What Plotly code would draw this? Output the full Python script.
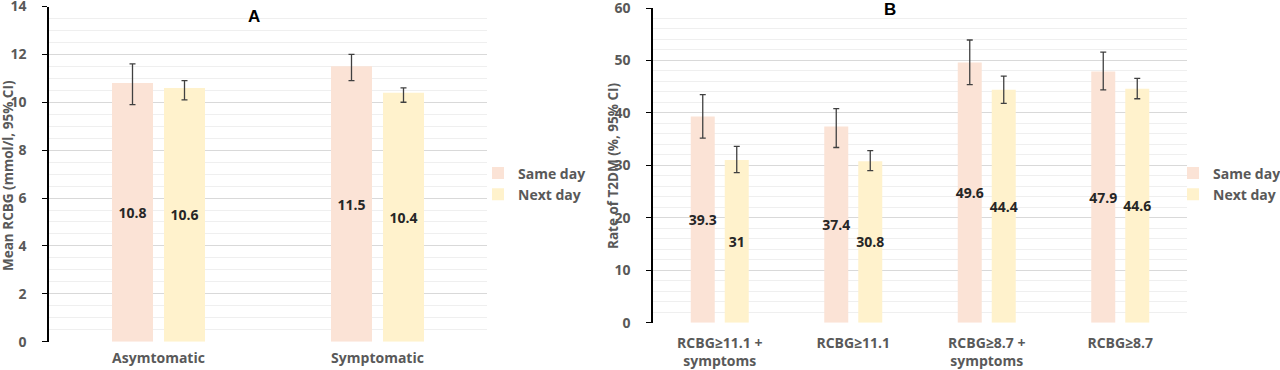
import plotly.graph_objects as go

# ---- Data ----
cats_a = ["Asymtomatic", "Symptomatic"]
same_a = [10.8, 11.5]
same_a_lo = [9.9, 10.9]
same_a_hi = [11.6, 12.0]
next_a = [10.6, 10.4]
next_a_lo = [10.1, 10.0]
next_a_hi = [10.9, 10.6]

cats_b = ["RCBG≥11.1 + symptoms", "RCBG≥11.1", "RCBG≥8.7 + symptoms", "RCBG≥8.7"]
ticks_b = ["RCBG≥11.1 +<br>symptoms", "RCBG≥11.1", "RCBG≥8.7 +<br>symptoms", "RCBG≥8.7"]
same_b = [39.3, 37.4, 49.6, 47.9]
same_b_lo = [35.2, 33.4, 45.4, 44.4]
same_b_hi = [43.5, 40.8, 53.9, 51.6]
next_b = [31, 30.8, 44.4, 44.6]
next_b_lo = [28.6, 29.0, 41.8, 42.7]
next_b_hi = [33.6, 32.8, 47.0, 46.6]

series_names = ["Same day", "Next day"]
colors = ["#FBE3D6", "#FFF2CC"]

FONT = "Open Sans"
GRAY = "#595959"
W, H = 1280, 370


def px_x(p):
    return p / W


def px_y(p):
    return 1 - p / H


fig = go.Figure()


def add_bars(x, vals, lo, hi, name, color, xa, ya, legend, width, offset):
    fig.add_trace(go.Bar(
        x=x, y=vals, name=name, marker=dict(color=color, line=dict(width=0)),
        xaxis=xa, yaxis=ya, legend=legend, width=width, offset=offset,
        text=[f"{v:g}" for v in vals], textposition="inside",
        insidetextanchor="middle", textangle=0, constraintext="none",
        textfont=dict(family=FONT, size=14, color="#262626", weight="bold"),
        error_y=dict(type="data", symmetric=False,
                     array=[h - v for h, v in zip(hi, vals)],
                     arrayminus=[v - l for l, v in zip(lo, vals)],
                     color="#404040", thickness=1.3, width=3),
        hoverinfo="x+y",
    ))


# bar width / offset in category units (panel A: 41px bars, 11px gap in 219px slots;
# panel B: 24px bars, 10px gap in 133.5px slots)
wa, ga = 41 / 219, 11 / 219
wb, gb = 24 / 133.5, 10 / 133.5
add_bars(cats_a, same_a, same_a_lo, same_a_hi, series_names[0], colors[0], "x", "y", "legend",
         wa, -wa - ga / 2)
add_bars(cats_a, next_a, next_a_lo, next_a_hi, series_names[1], colors[1], "x", "y", "legend",
         wa, ga / 2)
add_bars(cats_b, same_b, same_b_lo, same_b_hi, series_names[0], colors[0], "x2", "y2", "legend2",
         wb, -wb - gb / 2)
add_bars(cats_b, next_b, next_b_lo, next_b_hi, series_names[1], colors[1], "x2", "y2", "legend2",
         wb, gb / 2)

tickfont = dict(family=FONT, size=14, color=GRAY, weight="bold")

yaxis_common = dict(
    showline=True, linecolor="black", linewidth=1.5,
    ticks="outside", ticklen=5, tickcolor="black", tickwidth=1.3,
    showgrid=True, gridcolor="#D9D9D9", gridwidth=1,
    zeroline=False, tickfont=tickfont, ticklabelstandoff=13,
    automargin=False, ticklabeloverflow="allow",
)
xaxis_common = dict(showline=False, ticks="", showgrid=False, zeroline=False,
                    tickfont=tickfont, automargin=False, ticklabeloverflow="allow")

leg_font = dict(family=FONT, size=14, color=GRAY, weight="bold")

fig.update_layout(
    width=W, height=H,
    margin=dict(l=0, r=0, t=0, b=0, autoexpand=False),
    paper_bgcolor="white", plot_bgcolor="white",
    barmode="overlay",
    font=dict(family=FONT, color=GRAY),
    xaxis=dict(domain=[px_x(49), px_x(487)], anchor="y", ticklabelstandoff=6,
               **xaxis_common),
    yaxis=dict(domain=[px_y(341.7), px_y(6.5)], anchor="x", range=[0, 14], dtick=2,
               minor=dict(dtick=0.5, showgrid=True, gridcolor="#EFEFEF", gridwidth=1),
               **yaxis_common),
    xaxis2=dict(domain=[px_x(653), px_x(1187)], anchor="y2", ticklabelstandoff=10,
                tickmode="array", tickvals=cats_b, ticktext=ticks_b, **xaxis_common),
    yaxis2=dict(domain=[px_y(322.7), px_y(8)], anchor="x2", range=[0, 60], dtick=10,
                minor=dict(dtick=2, showgrid=True, gridcolor="#EFEFEF", gridwidth=1),
                **yaxis_common),
    legend=dict(x=px_x(478), y=px_y(184), xanchor="left", yanchor="middle",
                font=leg_font, bgcolor="rgba(0,0,0,0)", itemwidth=30,
                traceorder="normal"),
    legend2=dict(x=px_x(1173), y=px_y(184), xanchor="left", yanchor="middle",
                 font=leg_font, bgcolor="rgba(0,0,0,0)", itemwidth=30,
                 traceorder="normal"),
    showlegend=True,
)

ann_font = dict(family=FONT, size=13.5, color=GRAY, weight="bold")
fig.add_annotation(text="Mean RCBG (mmol/l, 95% CI)", x=px_x(8), y=px_y(176),
                   xref="paper", yref="paper", textangle=-90, showarrow=False,
                   font=ann_font, xanchor="center", yanchor="middle")
fig.add_annotation(text="Rate of T2DM (%, 95% CI)", x=px_x(613), y=px_y(166),
                   xref="paper", yref="paper", textangle=-90, showarrow=False,
                   font=ann_font, xanchor="center", yanchor="middle")
fig.add_annotation(text="A", x=px_x(254), y=px_y(16), xref="paper", yref="paper",
                   showarrow=False, font=dict(family="Liberation Sans", size=17, color="black", weight="bold"),
                   xanchor="center", yanchor="middle")
fig.add_annotation(text="B", x=px_x(890), y=px_y(10), xref="paper", yref="paper",
                   showarrow=False, font=dict(family="Liberation Sans", size=17, color="black", weight="bold"),
                   xanchor="center", yanchor="middle")

# remove the default 8px page margin so the figure fills the window exactly
fig.write_html("out.html", config={"displayModeBar": False},
               post_script="document.body.style.margin='0px';document.body.style.overflow='hidden';")
